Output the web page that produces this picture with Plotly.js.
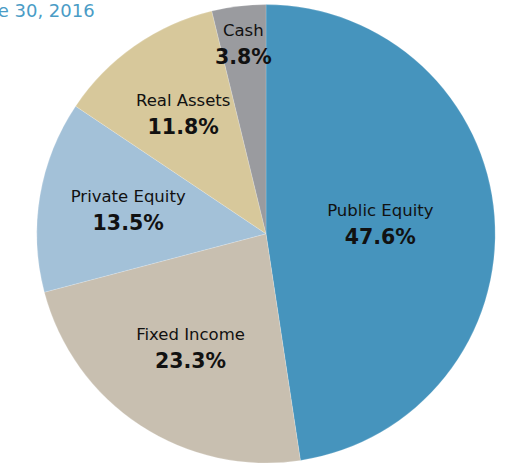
<!DOCTYPE html>
<html><head><meta charset="utf-8">
<script src="https://cdn.plot.ly/plotly-3.0.1.min.js"></script>
<style>html,body{margin:0;padding:0;background:#fff}</style>
</head><body>
<div id="chart" style="width:511px;height:463px"></div>
<script>
const categories = ["Public Equity", "Fixed Income", "Private Equity", "Real Assets", "Cash"];
const values = [47.6, 23.3, 13.5, 11.8, 3.8];
const colors = ["#4694bd", "#c8bfb0", "#a3c1d8", "#d7c89b", "#9a9b9f"];
const titleText = "Asset Allocation as of June 30, 2016";

const W = 511, H = 463;
const cx = 266, cyTop = 233.8, R = 229.2;
function domainFor(k) {
  const r = R * k;
  const cyb = H - cyTop;
  return {x: [(cx - r) / W, (cx + r) / W], y: [(cyb - r) / H, (cyb + r) / H]};
}
const tmpl = "<span style='font-size:16.5px'>%{label}</span><br><span style='font-size:20.5px'><b>%{value:.1f}%</b></span>";
function labelsFor(show) {
  return categories.map(c => show.includes(c) ? tmpl : "");
}
const font = {family: "DejaVu Sans, sans-serif", size: 21.5, color: "#111111"};

function pieTrace(k, show, visibleSlices) {
  return {
    type: "pie",
    labels: categories,
    values: values,
    sort: false,
    direction: "clockwise",
    rotation: 0,
    marker: visibleSlices
      ? {colors: colors, line: {color: "rgba(255,255,255,0.6)", width: 0.3}}
      : {colors: categories.map(() => "rgba(0,0,0,0)"), line: {width: 0}},
    texttemplate: labelsFor(show),
    textposition: "inside",
    insidetextorientation: "horizontal",
    textfont: font,
    hoverinfo: "none",
    domain: domainFor(k),
    showlegend: false
  };
}

const data = [
  pieTrace(1, ["Public Equity", "Fixed Income"], true),
  pieTrace(0.86, ["Private Equity", "Real Assets"], false),
  pieTrace(0.93, ["Cash"], false)
];

const layout = {
  width: W, height: H,
  margin: {l: 0, r: 0, t: 0, b: 0},
  paper_bgcolor: "#ffffff",
  uniformtext: {minsize: 21.5, mode: "show"},
  annotations: [{
    text: titleText, xref: "paper", yref: "paper",
    x: 97 / W, y: 1.004, xanchor: "right", yanchor: "top",
    showarrow: false,
    font: {family: "DejaVu Sans, sans-serif", size: 18, color: "#4a9cc6"}
  }]
};
Plotly.newPlot("chart", data, layout, {displayModeBar: false, staticPlot: true});
</script>
</body></html>
